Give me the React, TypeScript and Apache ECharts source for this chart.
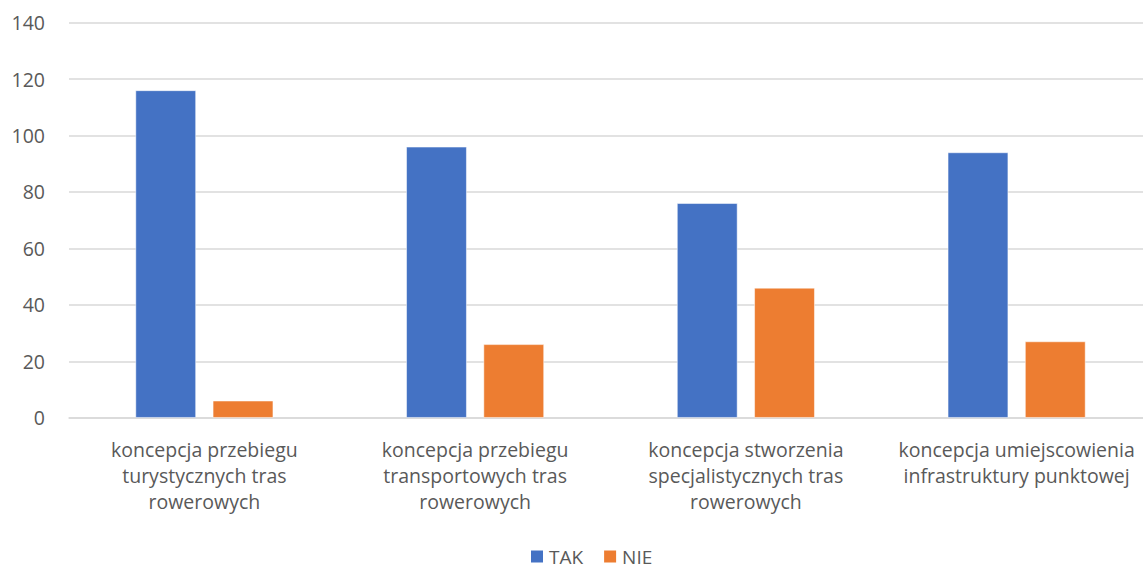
import React, { useEffect, useRef } from "react";
import * as echarts from "echarts";

const categories = [
  "koncepcja przebiegu\nturystycznych tras\nrowerowych",
  "koncepcja przebiegu\ntransportowych tras\nrowerowych",
  "koncepcja stworzenia\nspecjalistycznych tras\nrowerowych",
  "koncepcja umiejscowienia\ninfrastruktury punktowej",
];
const takValues = [116, 96, 76, 94];
const nieValues = [6, 26, 46, 27];
const yTicks = { min: 0, max: 140, interval: 20 };

const FONT = "'Open Sans', 'Noto Sans', sans-serif";
const FS = 19.5;

export default function App() {
  const ref = useRef<HTMLDivElement>(null);
  useEffect(() => {
    if (!ref.current) return;
    const chart = echarts.init(ref.current, undefined, { renderer: "svg" });
    chart.setOption({
      animation: false,
      backgroundColor: "#ffffff",
      textStyle: { fontFamily: FONT },
      grid: { left: 69, right: 0, top: 22.7, bottom: 152.3, containLabel: false },
      legend: {
        bottom: 4,
        left: 529,
        padding: 0,
        itemWidth: 14,
        itemHeight: 14,
        itemGap: 19,
        icon: "rect",
        textStyle: { color: "#595959", fontSize: 19, lineHeight: 18, fontFamily: FONT },
        data: ["TAK", "NIE"],
      },
      xAxis: {
        type: "category",
        data: categories,
        axisLine: { show: true, lineStyle: { color: "#D9D9D9", width: 1.5 } },
        axisTick: { show: false },
        axisLabel: {
          color: "#595959",
          fontSize: FS,
          lineHeight: 26,
          margin: 19,
          interval: 0,
          fontFamily: FONT,
        },
      },
      yAxis: {
        type: "value",
        min: yTicks.min,
        max: yTicks.max,
        interval: yTicks.interval,
        axisLine: { show: false },
        axisTick: { show: false },
        splitLine: { lineStyle: { color: "#D9D9D9", width: 1.5 } },
        axisLabel: { color: "#595959", fontSize: FS, margin: 24, fontFamily: FONT },
      },
      series: [
        {
          name: "TAK",
          type: "bar",
          data: takValues,
          barWidth: "22.3%",
          barGap: "28%",
          itemStyle: { color: "#4472C4", borderColor: "#ffffff", borderWidth: 0.5 },
        },
        {
          name: "NIE",
          type: "bar",
          data: nieValues,
          barWidth: "22.3%",
          itemStyle: { color: "#ED7D31", borderColor: "#ffffff", borderWidth: 0.5 },
        },
      ],
    });
    return () => chart.dispose();
  }, []);
  return (
    <div
      style={{
        position: "fixed",
        left: 0,
        top: 0,
        width: 1143,
        height: 570,
        overflow: "hidden",
        background: "#fff",
      }}
    >
      <div ref={ref} style={{ width: 1152, height: 570 }} />
    </div>
  );
}
